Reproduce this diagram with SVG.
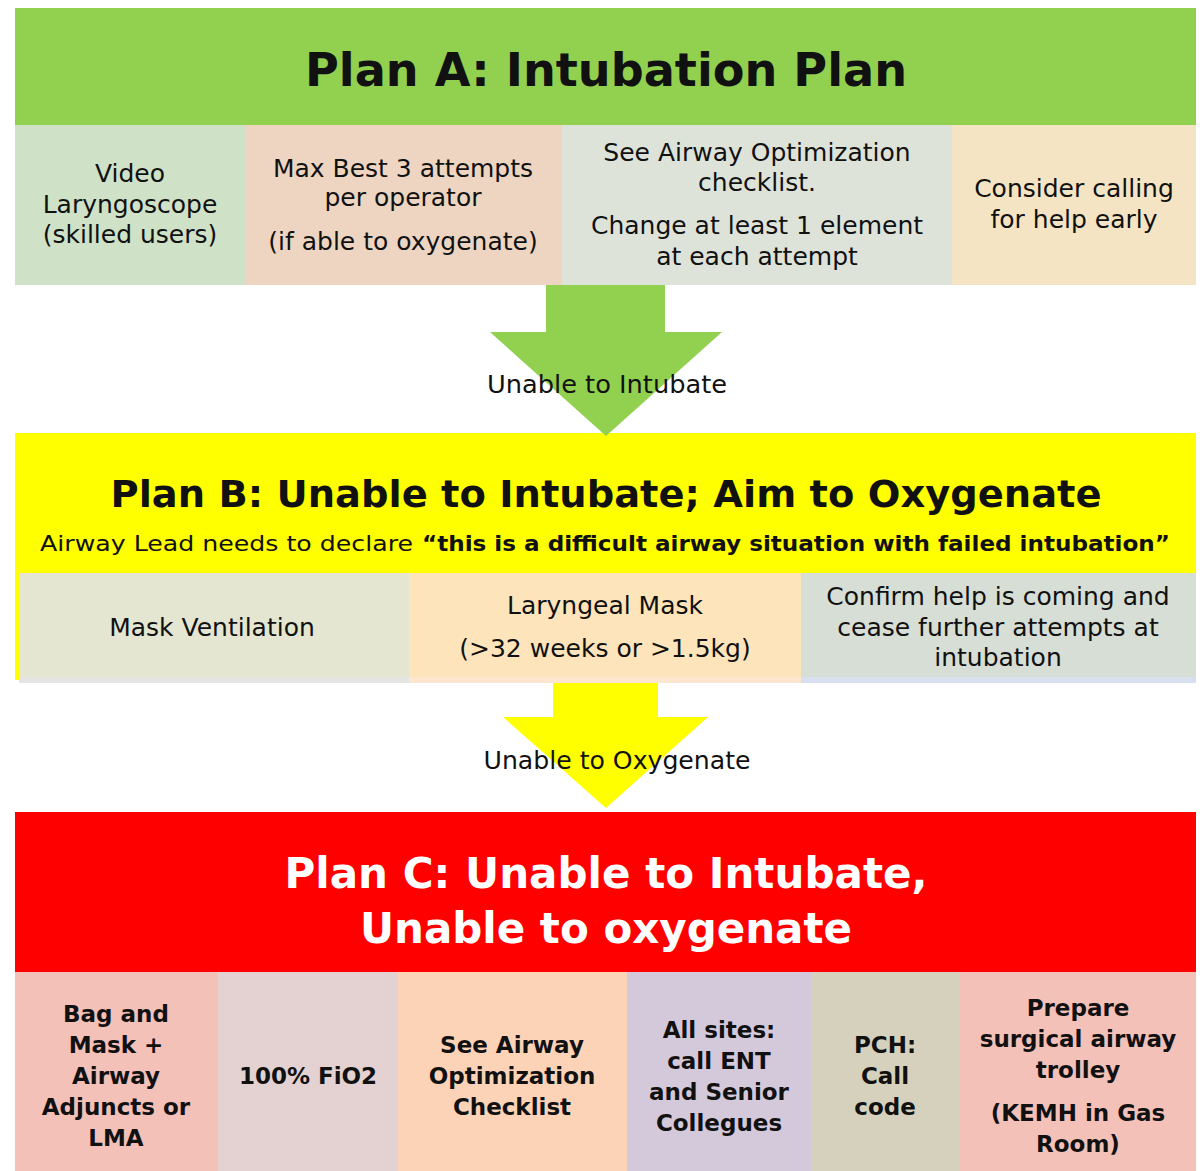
<svg xmlns="http://www.w3.org/2000/svg" width="1200" height="1171" viewBox="0 0 1200 1171">
<style>
  text { font-family: "DejaVu Sans", "Open Sans", sans-serif; text-anchor: middle; fill: #111; }
  .title { font-weight: bold; }
  .cell { font-size: 25px; }
  .cellb { font-size: 23px; font-weight: bold; }
  .lbl { font-size: 24px; }
  .white { fill: #fff; }
</style>
<rect width="1200" height="1171" fill="#fff"/>

<g id="planA">
  <rect x="15" y="8" width="1181" height="117" fill="#92D050"/>
  <text class="title" x="606" y="86" font-size="46" textLength="602" lengthAdjust="spacingAndGlyphs">Plan A: Intubation Plan</text>
</g>
<g id="planA-video">
  <rect x="15" y="125" width="230" height="160" fill="#CFE1C7"/>
  <text class="cell" x="130" y="182">Video</text>
  <text class="cell" x="130" y="213">Laryngoscope</text>
  <text class="cell" x="130" y="243">(skilled users)</text>
</g>
<g id="planA-attempts">
  <rect x="245" y="125" width="317" height="160" fill="#EDD5C1"/>
  <text class="cell" x="403" y="177">Max Best 3 attempts</text>
  <text class="cell" x="403" y="206">per operator</text>
  <text class="cell" x="403" y="250">(if able to oxygenate)</text>
</g>
<g id="planA-optimization">
  <rect x="562" y="125" width="390" height="160" fill="#DEE3DA"/>
  <text class="cell" x="757" y="161">See Airway Optimization</text>
  <text class="cell" x="757" y="191">checklist.</text>
  <text class="cell" x="757" y="234">Change at least 1 element</text>
  <text class="cell" x="757" y="265">at each attempt</text>
</g>
<g id="planA-help">
  <rect x="952" y="125" width="244" height="160" fill="#F5E4C3"/>
  <text class="cell" x="1074" y="197">Consider calling</text>
  <text class="cell" x="1074" y="228">for help early</text>
</g>

<g id="planB">
  <rect x="15" y="433" width="1181" height="247" fill="#FFFF00"/>
  <text class="title" x="606" y="507" font-size="38" textLength="991" lengthAdjust="spacingAndGlyphs">Plan B: Unable to Intubate; Aim to Oxygenate</text>
  <text x="40" y="551" font-size="22" style="text-anchor:start" textLength="373" lengthAdjust="spacingAndGlyphs">Airway Lead needs to declare</text>
  <text x="422" y="551" font-size="22" font-weight="bold" style="text-anchor:start" textLength="748" lengthAdjust="spacingAndGlyphs">“this is a difficult airway situation with failed intubation”</text>
</g>
<g id="planB-mask">
  <rect x="19" y="573" width="390" height="104" fill="#E5E6D1"/>
  <rect x="19" y="677" width="390" height="6" fill="#E4E4E2"/>
  <text class="cell" x="212" y="636">Mask Ventilation</text>
</g>
<g id="planB-lma">
  <rect x="409" y="573" width="392" height="104" fill="#FDE4BA"/>
  <rect x="409" y="677" width="392" height="6" fill="#FCE6CF"/>
  <text class="cell" x="605" y="614">Laryngeal Mask</text>
  <text class="cell" x="605" y="657">(&gt;32 weeks or &gt;1.5kg)</text>
</g>
<g id="planB-confirm">
  <rect x="801" y="573" width="395" height="104" fill="#D7DED5"/>
  <rect x="801" y="677" width="395" height="6" fill="#D8DFEE"/>
  <text class="cell" x="998" y="605">Confirm help is coming and</text>
  <text class="cell" x="998" y="636">cease further attempts at</text>
  <text class="cell" x="998" y="666">intubation</text>
</g>

<g id="planC">
  <rect x="15" y="812" width="1181" height="160" fill="#FF0000"/>
  <text class="title white" x="606" y="888" font-size="42" textLength="643" lengthAdjust="spacingAndGlyphs">Plan C: Unable to Intubate,</text>
  <text class="title white" x="606" y="943" font-size="42" textLength="492" lengthAdjust="spacingAndGlyphs">Unable to oxygenate</text>
</g>
<g id="planC-bag">
  <rect x="15" y="972" width="203" height="199" fill="#F4C1B9"/>
  <text class="cellb" x="116" y="1022">Bag and</text>
  <text class="cellb" x="116" y="1053">Mask +</text>
  <text class="cellb" x="116" y="1084">Airway</text>
  <text class="cellb" x="116" y="1115">Adjuncts or</text>
  <text class="cellb" x="116" y="1146">LMA</text>
</g>
<g id="planC-fio2">
  <rect x="218" y="972" width="180" height="199" fill="#E4D1D1"/>
  <text class="cellb" x="308" y="1084">100% FiO2</text>
</g>
<g id="planC-checklist">
  <rect x="398" y="972" width="229" height="199" fill="#FCD3B7"/>
  <text class="cellb" x="512" y="1053">See Airway</text>
  <text class="cellb" x="512" y="1084">Optimization</text>
  <text class="cellb" x="512" y="1115">Checklist</text>
</g>
<g id="planC-ent">
  <rect x="627" y="972" width="184" height="199" fill="#D4C9DB"/>
  <text class="cellb" x="719" y="1038">All sites:</text>
  <text class="cellb" x="719" y="1069">call ENT</text>
  <text class="cellb" x="719" y="1100">and Senior</text>
  <text class="cellb" x="719" y="1131">Collegues</text>
</g>
<g id="planC-pch">
  <rect x="811" y="972" width="149" height="199" fill="#D6D1BD"/>
  <text class="cellb" x="885" y="1053">PCH:</text>
  <text class="cellb" x="885" y="1084">Call</text>
  <text class="cellb" x="885" y="1115">code</text>
</g>
<g id="planC-surgical">
  <rect x="960" y="972" width="236" height="199" fill="#F4C1B9"/>
  <text class="cellb" x="1078" y="1016">Prepare</text>
  <text class="cellb" x="1078" y="1047">surgical airway</text>
  <text class="cellb" x="1078" y="1078">trolley</text>
  <text class="cellb" x="1078" y="1121">(KEMH in Gas</text>
  <text class="cellb" x="1078" y="1152">Room)</text>
</g>

<g id="connectors">
  <polygon points="546,285 665,285 665,332 722,332 606,436 490,332 546,332" fill="#92D050"/>
  <text class="lbl" x="607" y="393" textLength="240" lengthAdjust="spacingAndGlyphs">Unable to Intubate</text>
  <polygon points="553,683 658,683 658,717 708,717 606,808 503,717 553,717" fill="#FFFF00"/>
  <text class="lbl" x="617" y="769" textLength="267" lengthAdjust="spacingAndGlyphs">Unable to Oxygenate</text>
</g>
</svg>
